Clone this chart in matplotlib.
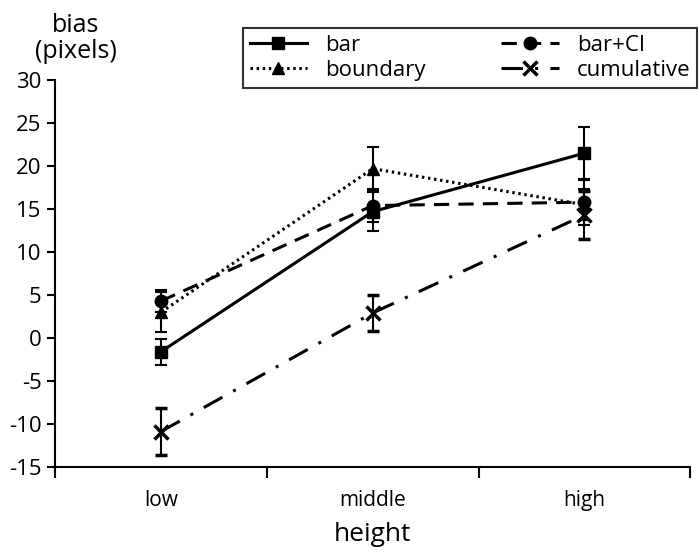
import matplotlib.pyplot as plt

categories = ['low', 'middle', 'high']

bar = [-1.6, 14.7, 21.5]
bar_err = [1.5, 2.3, 3.1]
bar_ci = [4.3, 15.4, 15.8]
bar_ci_err = [1.3, 1.9, 2.7]
boundary = [3.0, 19.7, 15.5]
boundary_err = [2.3, 2.5, 1.8]
cumulative = [-10.9, 2.9, 14.3]
cumulative_err = [2.7, 2.1, 2.8]

plt.rcParams['font.family'] = ['Open Sans', 'DejaVu Sans']
plt.rcParams['axes.unicode_minus'] = False

fig = plt.figure(figsize=(7, 5.53), dpi=100)
ax = fig.add_axes([0.079, 0.156, 0.907, 0.699])

x = list(range(len(categories)))
lw = 2.2
err_kw = dict(ecolor='black', elinewidth=1.5, capsize=4, capthick=1.5)

h1 = ax.errorbar(x, bar, yerr=bar_err, color='black', lw=lw, ls='-',
                 marker='s', ms=9, **err_kw)
h2 = ax.errorbar(x, bar_ci, yerr=bar_ci_err, color='black', lw=lw, ls=(0, (5, 3)),
                 marker='o', ms=9, **err_kw)
h3 = ax.errorbar(x, boundary, yerr=boundary_err, color='black', lw=lw, ls=(0, (0.8, 1.2)),
                 marker='^', ms=9, **err_kw)
h4 = ax.errorbar(x, cumulative, yerr=cumulative_err, color='black', lw=lw,
                 ls=(0, (7, 4, 1, 4)), marker='x', ms=10, mew=2.5, **err_kw)

ax.set_xlim(-0.5, 2.5)
ax.set_ylim(-15, 30)
ax.set_yticks(range(-15, 31, 5))
ax.set_xticks([-0.5, 0.5, 1.5, 2.5])
ax.set_xticklabels([])
ax.set_xticks(x, minor=True)
ax.set_xticklabels(categories, minor=True)
ax.tick_params(axis='x', which='minor', length=0, pad=17, labelsize=15)
ax.tick_params(axis='x', which='major', direction='out', length=8, width=1.5)
ax.tick_params(axis='y', direction='out', length=6, width=1.5, labelsize=16, pad=4)

for side in ['top', 'right']:
    ax.spines[side].set_visible(False)
for side in ['left', 'bottom']:
    ax.spines[side].set_linewidth(1.5)

ax.set_xlabel('height', fontsize=19, labelpad=8)
fig.text(0.108, 0.93, 'bias\n(pixels)', fontsize=18, ha='center', va='center',
         linespacing=1.05)

# legend fills column-wise, so order gives rows: bar | bar+CI, boundary | cumulative
handles = [h1[0], h3[0], h2[0], h4[0]]
labels = ['bar', 'boundary', 'bar+CI', 'cumulative']
leg = fig.legend(handles, labels, ncol=2, loc='lower left',
                 bbox_to_anchor=(0.347, 0.841, 0.649, 0.11), mode='expand',
                 borderaxespad=0, fontsize=16, frameon=True, fancybox=False,
                 edgecolor='black', handlelength=2.6, columnspacing=2.0,
                 labelspacing=0.2, borderpad=0.3)
leg.get_frame().set_linewidth(1.5)

fig.savefig('out.png', dpi=100)
